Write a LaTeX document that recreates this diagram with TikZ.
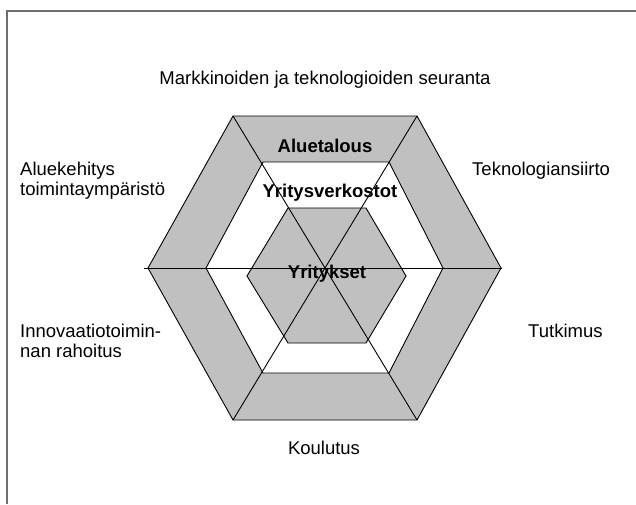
\documentclass[tikz,border=0pt]{standalone}
\usepackage{fontspec}
\setmainfont{Liberation Sans}
\definecolor{hexgray}{RGB}{192,192,192}
\definecolor{framegray}{RGB}{110,110,110}
\begin{document}
\begin{tikzpicture}[x=1pt,y=-1pt,
  lbl/.style={inner sep=0pt, font=\fontsize{18.5}{20}\selectfont},
  blbl/.style={inner sep=0pt, font=\fontsize{18.5}{20}\selectfont\bfseries},
  hexline/.style={draw=black, line width=0.9pt},
  spoke/.style={draw=black, line width=0.9pt}]
\useasboundingbox (0,0) rectangle (636,504);
\fill[white] (0,0) rectangle (636,504);
% frame
\draw[framegray, line width=2pt] (7,504) -- (7,10.5) -- (636,10.5);
% outer hexagon
\coordinate (o1) at (148,268);
\coordinate (o2) at (233,116);
\coordinate (o3) at (417,116);
\coordinate (o4) at (501,268);
\coordinate (o5) at (417,420);
\coordinate (o6) at (233,420);
\filldraw[hexline, fill=hexgray] (o1) -- (o2) -- (o3) -- (o4) -- (o5) -- (o6) -- cycle;
% middle hexagon
\coordinate (m1) at (206,268);
\coordinate (m2) at (263,162);
\coordinate (m3) at (389,162);
\coordinate (m4) at (443,268);
\coordinate (m5) at (389,373);
\coordinate (m6) at (263,373);
\filldraw[hexline, fill=white] (m1) -- (m2) -- (m3) -- (m4) -- (m5) -- (m6) -- cycle;
% inner hexagon
\coordinate (i1) at (247,276);
\coordinate (i2) at (288,208);
\coordinate (i3) at (366,208);
\coordinate (i4) at (406,276);
\coordinate (i5) at (366,343);
\coordinate (i6) at (288,343);
\filldraw[hexline, fill=hexgray] (i1) -- (i2) -- (i3) -- (i4) -- (i5) -- (i6) -- cycle;
% spokes
\coordinate (hl) at (144,268);
\coordinate (hr) at (502,268);
\draw[spoke] (hl) -- (hr);
\draw[spoke] (o2) -- (o5);
\draw[spoke] (o3) -- (o6);
% ring labels
\node[blbl, anchor=base] (alue) at (325,152) {Aluetalous};
\node[blbl, anchor=base] (verk) at (330,197) {Yritysverkostot};
\node[blbl, anchor=base] (yrit) at (327,278) {Yritykset};
% outside labels
\node[lbl, anchor=base] (mark) at (325,84) {Markkinoiden ja teknologioiden seuranta};
\node[lbl, anchor=base west] (tekn) at (472,175) {Teknologiansiirto};
\node[lbl, anchor=base west] (tutk) at (528,337) {Tutkimus};
\node[lbl, anchor=base] (koul) at (324,454) {Koulutus};
\node[lbl, anchor=north west, align=left] (kehi) at (20,162) {Aluekehitys\\toimintaympäristö};
\node[lbl, anchor=north west, align=left] (inno) at (20,324) {Innovaatiotoimin-\\nan rahoitus};
\end{tikzpicture}
\end{document}
